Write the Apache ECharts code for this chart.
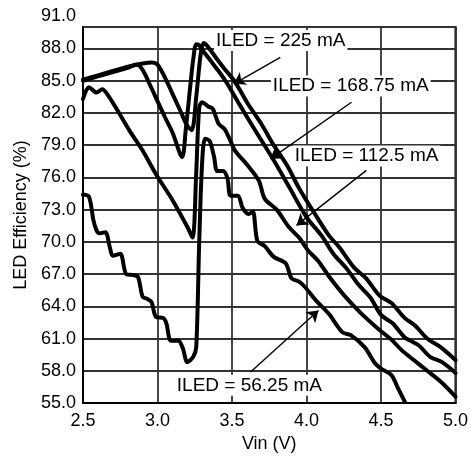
<!DOCTYPE html>
<html><head><meta charset="utf-8">
<script src="https://cdn.jsdelivr.net/npm/echarts/dist/echarts.min.js"></script>
<style>html,body{margin:0;padding:0;background:#fff}#c{width:471px;height:459px}</style>
</head><body><div id="c"></div>
<script>
// Curve 225 mA
const vinA = [2.50,2.60,2.70,2.80,2.90,2.96,3.00,3.05,3.10,3.15,3.20,3.23,3.26,3.29,3.31,3.33,3.40,3.45,3.52,3.60,3.70,3.78,3.87,3.95,4.07,4.15,4.22,4.32,4.40,4.49,4.57,4.66,4.73,4.81,4.90,5.00];
const effA = [85.1,85.5,85.9,86.3,86.6,86.7,86.5,85.3,83.8,82.3,80.8,80.4,83.5,87.5,88.5,88.3,87.0,86.1,84.9,83.0,80.9,79.0,77.1,75.0,72.3,70.6,69.5,67.6,66.6,65.0,64.3,62.9,62.2,61.0,60.2,59.0];
// Curve 168.75 mA
const vinB = [2.50,2.60,2.70,2.80,2.86,2.90,2.95,3.00,3.05,3.10,3.165,3.19,3.22,3.24,3.26,3.28,3.31,3.36,3.41,3.46,3.55,3.65,3.78,3.88,4.00,4.10,4.18,4.27,4.35,4.43,4.50,4.58,4.66,4.75,4.83,4.91,5.00];
const effB = [85.0,85.4,85.8,86.2,86.5,86.0,84.6,83.1,81.6,80.2,77.9,80.5,84.5,87.0,88.4,88.3,87.7,86.8,85.9,84.9,82.8,80.5,77.6,75.2,72.3,70.6,68.9,67.5,66.0,64.8,63.2,62.4,61.1,60.4,59.3,58.8,57.8];
// Curve 112.5 mA
const vinC = [2.50,2.54,2.59,2.63,2.66,2.72,2.81,2.90,2.99,3.10,3.20,3.235,3.26,3.28,3.30,3.34,3.37,3.41,3.45,3.48,3.52,3.60,3.68,3.72,3.80,3.88,3.95,4.01,4.08,4.15,4.26,4.37,4.49,4.57,4.64,4.72,4.81,4.90,5.00];
const effC = [83.3,84.4,83.9,84.2,83.8,82.5,80.4,78.5,76.3,73.9,71.4,70.4,76.5,82.5,83.0,82.6,82.4,81.0,80.5,79.7,78.5,77.2,75.7,74.0,73.0,71.4,70.4,69.2,68.2,66.8,64.9,63.3,61.8,60.9,59.9,59.0,58.0,57.0,55.6];
// Curve 56.25 mA
const vinD = [2.50,2.54,2.57,2.59,2.61,2.65,2.68,2.70,2.75,2.79,2.84,2.87,2.90,2.93,2.96,2.99,3.04,3.06,3.09,3.14,3.17,3.20,3.24,3.26,3.28,3.30,3.32,3.35,3.38,3.40,3.44,3.47,3.49,3.54,3.57,3.61,3.64,3.67,3.72,3.78,3.86,3.90,3.95,3.99,4.06,4.15,4.24,4.30,4.39,4.46,4.50,4.57,4.61,4.66];
const effD = [74.4,74.2,72.0,71.1,70.8,70.9,69.5,68.7,68.9,67.0,66.9,66.7,64.9,64.7,64.4,63.0,62.9,62.4,60.8,60.8,60.1,58.8,59.3,60.2,70.0,77.5,79.6,79.4,77.9,76.6,76.6,75.9,74.3,74.3,73.2,72.6,72.8,70.1,69.6,68.6,68.0,66.6,66.3,65.8,64.6,63.3,61.6,61.3,60.2,58.7,58.2,57.6,56.5,55.1];

const seriesNames = ['ILED = 225 mA','ILED = 168.75 mA','ILED = 112.5 mA','ILED = 56.25 mA'];
// label anchor (Vin, Eff) and arrow start/end for each annotation
const labelAt = [[3.827,88.74],[4.297,84.5],[4.403,78.0],[3.617,56.65]];
const arrowFrom = [[3.824,87.18],[4.302,83.0],[4.402,76.65],[3.625,57.88]];
const arrowTo = [[3.513,84.71],[3.758,77.73],[3.933,71.53],[4.08,63.62]];

const xMin = 2.5, xMax = 5.0, xStep = 0.5;
const yMin = 55, yMax = 90, yStep = 3, yTopLabel = '91.0';

const zip = (a,b) => a.map((v,i)=>[v,b[i]]);
const curves = [zip(vinA,effA), zip(vinB,effB), zip(vinC,effC), zip(vinD,effD)];

const FONT = '"Liberation Sans", Arial, sans-serif';
const chart = echarts.init(document.getElementById('c'));
const lineSeries = curves.map((d,i)=>({
  name: seriesNames[i], type:'line', data:d, showSymbol:false, smooth:0.3,
  lineStyle:{color:'#000', width:4, join:'round', cap:'round'}, z:3, silent:true
}));
lineSeries.push({
  type:'line', data:[], z:6, silent:true,
  markLine:{
    silent:true, symbol:['none','arrow'], symbolSize:11, animation:false,
    lineStyle:{color:'#000', width:1.4, type:'solid'}, label:{show:false},
    data: arrowFrom.map((f,i)=>[{coord:f},{coord:arrowTo[i]}])
  },
  markPoint:{
    silent:true, symbol:'rect', symbolSize:0, animation:false,
    label:{show:true, position:'inside', formatter:p=>p.name, color:'#000',
      fontFamily:FONT, fontSize:19, backgroundColor:'#fff', padding:[1,2]},
    data: labelAt.map((c,i)=>({name:seriesNames[i], coord:c}))
  }
});

chart.setOption({
  animation:false,
  backgroundColor:'#fff',
  textStyle:{fontFamily:FONT},
  grid:{left:83, right:13, top:27, bottom:56, show:true, borderColor:'#000', borderWidth:2, backgroundColor:'transparent'},
  xAxis:{
    type:'value', min:xMin, max:xMax, interval:xStep,
    name:'Vin (V)', nameLocation:'middle', nameGap:28,
    nameTextStyle:{color:'#000', fontSize:18, fontFamily:FONT},
    axisLine:{show:true, lineStyle:{color:'#000', width:2}},
    axisTick:{show:false},
    axisLabel:{color:'#000', fontSize:18, fontFamily:FONT, margin:9, formatter:v=>v.toFixed(1)},
    splitLine:{show:true, lineStyle:{color:'#333', width:1.8}}
  },
  yAxis:{
    type:'value', min:yMin, max:yMax, interval:yStep,
    name:'LED Efficiency (%)', nameLocation:'middle', nameGap:51,
    nameTextStyle:{color:'#000', fontSize:18, fontFamily:FONT},
    axisLine:{show:true, lineStyle:{color:'#000', width:2}},
    axisTick:{show:false},
    axisLabel:{color:'#000', fontSize:18, fontFamily:FONT, margin:7,
      formatter:v=> v>=yMax ? '{t|'+yTopLabel+'}' : v.toFixed(1),
      rich:{t:{color:'#000', fontSize:18, fontFamily:FONT, padding:[0,0,22,0]}}},
    splitLine:{show:true, lineStyle:{color:'#333', width:1.8}}
  },
  series: lineSeries
});
</script></body></html>
